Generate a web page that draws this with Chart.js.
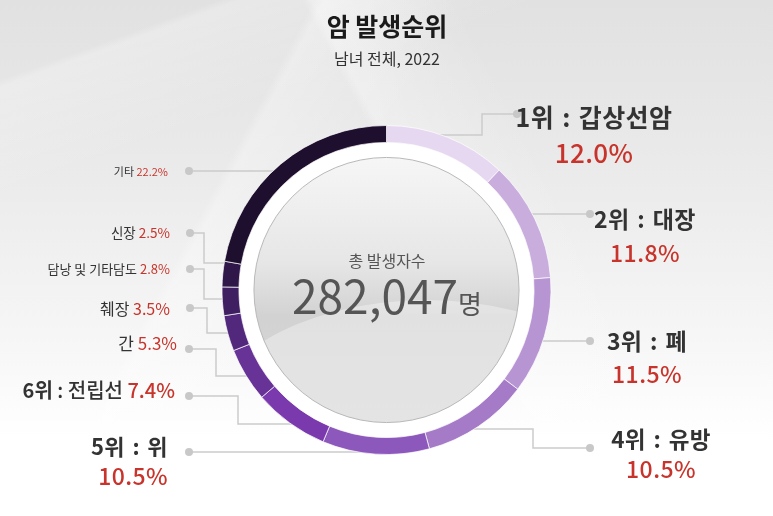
<!DOCTYPE html>
<html>
<head>
<meta charset="utf-8">
<script src="https://cdn.jsdelivr.net/npm/chart.js@4.4.0/dist/chart.umd.min.js"></script>
<title>암 발생순위</title>
<style>
  html, body { margin: 0; padding: 0; }
  body {
    width: 773px; height: 516px; overflow: hidden; position: relative;
    font-family: "Noto Sans CJK KR", "Noto Sans", sans-serif;
    background:
      linear-gradient(118deg, rgba(255,255,255,0) 30%, rgba(255,255,255,0.28) 31%, rgba(255,255,255,0) 44%),
      linear-gradient(62deg, rgba(255,255,255,0) 55%, rgba(255,255,255,0.3) 56%, rgba(255,255,255,0) 70%),
      linear-gradient(160deg, rgba(255,255,255,0) 10%, rgba(255,255,255,0.25) 11%, rgba(255,255,255,0) 25%),
      linear-gradient(180deg, #e1e1e1 0%, #ebebeb 35%, #f6f6f6 65%, #ffffff 85%);
  }
  #chart { position: absolute; left: 0; top: 0; }
  .t { position: absolute; white-space: nowrap; line-height: 1; transform: translateY(-50%); color: #333; }
  .c { transform: translate(-50%, -50%); text-align: center; }
  .r { transform: translate(-100%, -50%); text-align: right; }
  .red { color: #c8342b; }
  .b { font-weight: 700; }
  .sp { letter-spacing: 0.4px; word-spacing: 2px; }
  #title { font-size: 25px; font-weight: 700; color: #1a1a1a; }
  #sub { font-size: 16px; color: #333; }
  #ctop { font-size: 16px; color: #555; }
  #cnum { font-size: 46px; color: #555; }
  #cnum span { font-size: 26px; }
</style>
</head>
<body>
<canvas id="chart" width="773" height="516"></canvas>
<div id="labels"></div>
<script>
// data
const categories = ['갑상선암', '대장', '폐', '유방', '위', '전립선', '간', '췌장', '담낭 및 기타담도', '신장', '기타'];
const shares = [12.0, 11.8, 11.5, 10.5, 10.5, 7.4, 5.3, 3.5, 2.8, 2.5, 22.2];
const ranks = [1, 2, 3, 4, 5, 6, null, null, null, null, null];
const totalCount = '282,047';
const titleText = '암 발생순위';
const subText = '남녀 전체, 2022';

// styles
const segColors = ['#e6d8f0', '#c9aedd', '#b794d2', '#a57bc8', '#8d58bc', '#7a3aad',
                   '#673397', '#52287c', '#3f1e61', '#2f1749', '#1f0f2f'];

// label layout: [x, y of name, y of pct (or null), name size, pct size, align]
const labelPos = [
  [594, 116, 152, 25, 26, 'c'],
  [645, 218, 252, 23, 23, 'c'],
  [647, 340, 373, 23, 23, 'c'],
  [661, 438, 468, 22.5, 23, 'c'],
  [168, 445, 475, 22, 23, 'r'],
  [175, 390, null, 20, 20, 'r'],
  [177, 342, null, 17, 17, 'r'],
  [170, 308, null, 16, 16, 'r'],
  [170, 268, null, 13, 13, 'r'],
  [170, 233, null, 13.5, 13.5, 'r'],
  [168, 171, null, 11, 11, 'r']
];
// leader lines: [dotX, dotY, elbowX or null, ringY, side]
const leaders = [
  [517, 114, 482, 135, 1],
  [590, 214, null, 214, 1],
  [590, 341, null, 341, 1],
  [590, 448, 533, 429, 1],
  [189, 452, null, 452, -1],
  [189, 396, 238, 424, -1],
  [189, 349, 216, 376, -1],
  [190, 308, 207, 333, -1],
  [190, 269, 204, 299, -1],
  [190, 233, 204, 263, -1],
  [189, 171, null, 171, -1]
];

const holder = document.getElementById('labels');
function addText(html, x, y, cls, id) {
  const d = document.createElement('div');
  d.className = 't ' + cls;
  if (id) d.id = id;
  d.style.left = x + 'px';
  d.style.top = y + 'px';
  d.innerHTML = html;
  holder.appendChild(d);
  return d;
}
addText(titleText, 387, 25, 'c', 'title');
addText(subText, 387, 58, 'c', 'sub');
addText('총 발생자수', 387, 260, 'c', 'ctop');
addText(totalCount + '<span>명</span>', 387, 294, 'c', 'cnum');

categories.forEach((name, i) => {
  const [x, y1, y2, s1, s2, al] = labelPos[i];
  const rk = ranks[i] ? '<span class="b">' + ranks[i] + '위</span> : ' : '';
  const pct = shares[i].toFixed(1) + '%';
  if (y2 !== null) {
    const a = addText(rk + name, x, y1, al + ' sp', null);
    a.style.fontSize = s1 + 'px';
    a.style.fontWeight = 600;
    const p = addText(pct, x, y2, al + ' red sp', null);
    p.style.fontSize = s2 + 'px';
    p.style.fontWeight = 500;
  } else {
    const a = addText(rk + name + ' <span class="red">' + pct + '</span>', x, y1, al, null);
    a.style.fontSize = s1 + 'px';
    if (ranks[i]) a.style.fontWeight = 500;
  }
});

const ringDecor = {
  id: 'ringDecor',
  beforeDatasetsDraw(chart) {
    const ctx = chart.ctx;
    const arc = chart.getDatasetMeta(0).data[0];
    const cx = arc.x, cy = arc.y, R = arc.outerRadius, r = arc.innerRadius;
    ctx.save();
    // leader lines
    ctx.strokeStyle = '#cbcbcb';
    ctx.lineWidth = 1.5;
    leaders.forEach(([dx, dy, ex, ry, side]) => {
      const h = ry - cy;
      const rx = cx + side * Math.sqrt(Math.max(0, (R - 2) * (R - 2) - h * h));
      ctx.beginPath();
      ctx.moveTo(dx, dy);
      if (ex !== null) {
        ctx.lineTo(ex, dy);
        ctx.lineTo(ex, ry);
      }
      ctx.lineTo(rx, ry);
      ctx.stroke();
      ctx.fillStyle = '#c8c8c8';
      ctx.beginPath();
      ctx.arc(dx, dy, 4, 0, Math.PI * 2);
      ctx.fill();
    });
    // white gap
    ctx.fillStyle = '#ffffff';
    ctx.beginPath();
    ctx.arc(cx, cy, r, 0, Math.PI * 2);
    ctx.fill();
    // inner grey disc
    const ir = r - 15;
    const g = ctx.createLinearGradient(0, cy - ir, 0, cy + ir);
    g.addColorStop(0, '#f6f6f6');
    g.addColorStop(0.4, '#e6e6e6');
    g.addColorStop(0.6, '#d2d2d2');
    g.addColorStop(1, '#d6d6d6');
    ctx.fillStyle = g;
    ctx.beginPath();
    ctx.arc(cx, cy, ir, 0, Math.PI * 2);
    ctx.fill();
    // soft swoosh inside
    ctx.save();
    ctx.beginPath();
    ctx.arc(cx, cy, ir, 0, Math.PI * 2);
    ctx.clip();
    ctx.fillStyle = 'rgba(255,255,255,0.35)';
    ctx.beginPath();
    ctx.ellipse(cx + 40, cy + 150, 230, 140, 0, 0, Math.PI * 2);
    ctx.fill();
    ctx.restore();
    ctx.strokeStyle = '#b9b9b9';
    ctx.lineWidth = 1;
    ctx.beginPath();
    ctx.arc(cx, cy, ir, 0, Math.PI * 2);
    ctx.stroke();
    ctx.restore();
  }
};

new Chart(document.getElementById('chart').getContext('2d'), {
  type: 'doughnut',
  data: {
    labels: categories,
    datasets: [{
      data: shares,
      backgroundColor: segColors,
      borderColor: 'rgba(255,255,255,0.7)',
      borderWidth: 1
    }]
  },
  options: {
    responsive: false,
    animation: false,
    cutout: '89.7%',
    layout: { padding: { top: 125, bottom: 61, left: 0, right: 0 } },
    plugins: { legend: { display: false }, tooltip: { enabled: false } }
  },
  plugins: [ringDecor]
});
</script>
</body>
</html>
